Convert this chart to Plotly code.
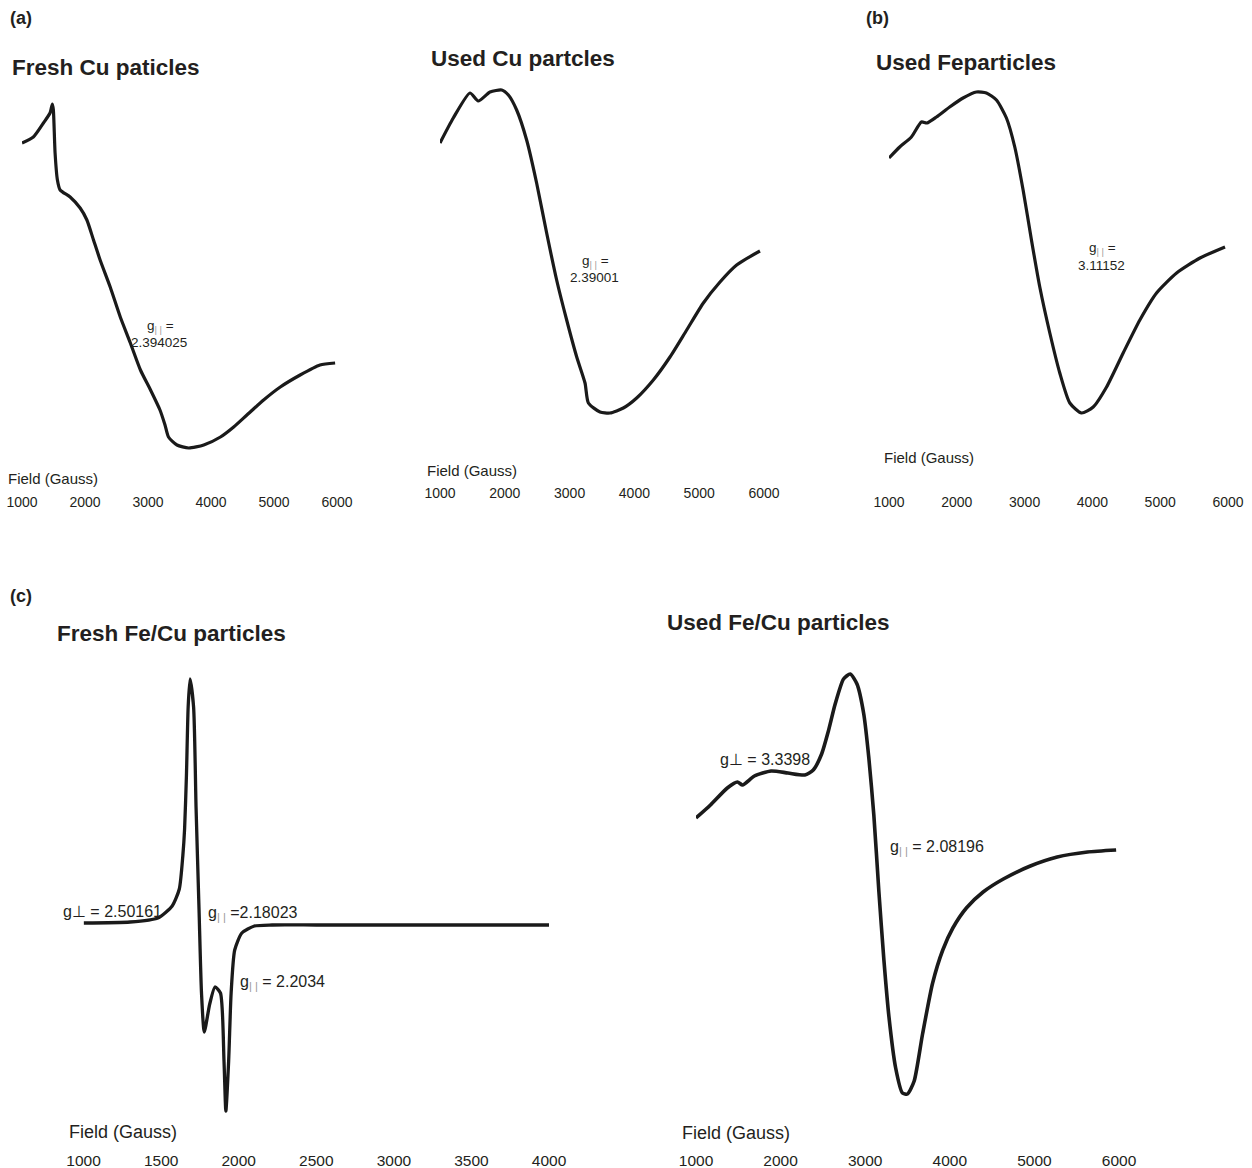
import plotly.graph_objects as go

W, H = 1252, 1168

# ---------------- data (field in Gauss, signal in arbitrary units) ----------------
fresh_cu_field = [1000, 1180, 1340, 1445, 1482, 1498, 1525, 1562, 1605, 1764, 1923, 2030, 2135,
                  2240, 2400, 2560, 2720, 2880, 3040, 3190, 3270, 3325, 3460, 3645, 3885, 4150,
                  4360, 4570, 4835, 5100, 5415, 5730, 5970]
fresh_cu_signal = [357, 363, 377, 387, 396, 390, 347, 320, 310, 303, 292, 280, 260,
                   240, 213, 183, 157, 130, 110, 90, 75, 63, 55, 52, 55, 63,
                   73, 85, 100, 113, 125, 135, 137]

used_cu_field = [1000, 1205, 1463, 1590, 1772, 1952, 2055, 2183, 2337, 2491, 2646, 2800, 2955,
                 3110, 3238, 3290, 3469, 3623, 3829, 4035, 4292, 4549, 4807, 5064, 5321, 5578, 5938]
used_cu_signal = [357, 382, 407, 399, 408, 410, 405, 390, 360, 317, 267, 220, 180,
                  143, 117, 97, 88, 87, 92, 102, 120, 143, 170, 197, 218, 235, 249]

used_fe_field = [1000, 1158, 1330, 1478, 1560, 1700, 1895, 2092, 2290, 2437, 2585, 2732, 2855,
                 2978, 3101, 3224, 3372, 3519, 3667, 3839, 4012, 4209, 4454, 4700, 4946, 5242,
                 5587, 5956]
used_fe_signal = [342, 353, 363, 378, 377, 383, 393, 402, 408, 407, 400, 382, 353,
                  310, 260, 213, 167, 127, 97, 87, 93, 113, 147, 180, 207, 227,
                  242, 253]

fresh_fecu_field = [1000, 1300, 1479, 1571, 1617, 1640, 1651, 1663, 1674, 1686, 1709, 1725, 1744,
                    1760, 1778, 1813, 1847, 1882, 1905, 1917, 1935, 1951, 1974, 2020, 2101, 2215,
                    2500, 3000, 3500, 4117]
fresh_fecu_signal = [2, 3, 7, 19, 36, 70, 96, 150, 218, 246, 218, 117, 16,
                     -68, -107, -79, -62, -68, -136, -186, -136, -68, -25, -8, -1, 0,
                     0, 0, 0, 0]

used_fecu_field = [1000, 1171, 1370, 1490, 1550, 1690, 1888, 2087, 2286, 2386, 2485, 2565, 2645,
                   2744, 2824, 2903, 2983, 3043, 3102, 3162, 3221, 3281, 3360, 3440, 3500, 3579,
                   3678, 3797, 3917, 4036, 4196, 4394, 4633, 4952, 5270, 5628, 5966]
used_fecu_signal = [282, 295, 312, 318, 315, 324, 329, 327, 325, 330, 346, 369, 396,
                    421, 426, 416, 386, 342, 285, 208, 140, 83, 32, 7, 6, 19,
                    66, 117, 150, 172, 192, 208, 221, 234, 243, 248, 250]

top_ticks = [1000, 2000, 3000, 4000, 5000, 6000]
fecu_ticks = [1000, 1500, 2000, 2500, 3000, 3500, 4000]

# ---------------- layout helpers ----------------
FONT = "Arial, Liberation Sans, sans-serif"
TXT = "#231f20"
LINE = "#1a1a1a"


def px(x):
    return x / W


def py(y):
    return 1 - y / H


# panel geometry: x-pixel of range ends, y-pixel top/bottom of plot area, signal reference
panels = [
    dict(x=fresh_cu_field, y=fresh_cu_signal, xr=[1000, 6000], xpx=[22, 337], ypx=[95, 492], ref=500,
         ticks=top_ticks, tfs=14, lw=3.2),
    dict(x=used_cu_field, y=used_cu_signal, xr=[1000, 6000], xpx=[440, 764], ypx=[85, 483], ref=500,
         ticks=top_ticks, tfs=14, lw=3.2),
    dict(x=used_fe_field, y=used_fe_signal, xr=[1000, 6000], xpx=[889, 1228], ypx=[85, 492], ref=500,
         ticks=top_ticks, tfs=14, lw=3.2),
    dict(x=fresh_fecu_field, y=fresh_fecu_signal, xr=[1000, 4000], xpx=[83.6, 549], ypx=[670, 1149], ref=925,
         ticks=fecu_ticks, tfs=15.5, lw=3.3),
    dict(x=used_fecu_field, y=used_fecu_signal, xr=[1000, 6000], xpx=[696, 1119], ypx=[665, 1149], ref=1100,
         ticks=top_ticks, tfs=15.5, lw=3.6),
]

fig = go.Figure()
layout = dict(width=W, height=H, autosize=False, margin=dict(l=0, r=0, t=0, b=0, pad=0),
              paper_bgcolor="white", plot_bgcolor="white", showlegend=False,
              font=dict(family=FONT, color=TXT))

for i, p in enumerate(panels, start=1):
    sfx = "" if i == 1 else str(i)
    fig.add_trace(go.Scatter(x=p["x"], y=p["y"], mode="lines",
                             line=dict(color=LINE, width=p["lw"], shape="spline", smoothing=0.6),
                             xaxis="x" + sfx, yaxis="y" + sfx, hoverinfo="skip"))
    top, bot = p["ypx"]
    layout["xaxis" + sfx] = dict(domain=[px(p["xpx"][0]), px(p["xpx"][1])], range=p["xr"],
                                 anchor="y" + sfx, tickvals=p["ticks"],
                                 ticktext=[str(t) for t in p["ticks"]], automargin=False,
                                 showgrid=False, zeroline=False, showline=False, ticks="",
                                 tickfont=dict(family=FONT, size=p["tfs"], color=TXT))
    layout["yaxis" + sfx] = dict(domain=[py(bot), py(top)], range=[p["ref"] - bot, p["ref"] - top],
                                 anchor="x" + sfx, visible=False, automargin=False)

fig.update_layout(**layout)

annots = []


def txt(x, y, s, size, bold=False, anchor="left"):
    annots.append(dict(x=px(x), y=py(y), xref="paper", yref="paper", text=("<b>%s</b>" % s) if bold else s,
                       showarrow=False, xanchor=anchor, yanchor="middle", borderpad=0,
                       font=dict(family=FONT, size=size, color=TXT)))


# panel labels and titles
txt(9, 18, "(a)", 18, bold=True)
txt(865, 18, "(b)", 18, bold=True)
txt(9, 596, "(c)", 18, bold=True)
txt(11, 67, "Fresh Cu paticles", 22.5, bold=True)
txt(430, 58, "Used Cu partcles", 22.5, bold=True)
txt(875, 62, "Used Feparticles", 22.5, bold=True)
txt(56, 633, "Fresh Fe/Cu particles", 22.5, bold=True)
txt(666, 622, "Used Fe/Cu particles", 22.5, bold=True)

# axis labels
txt(7, 478, "Field (Gauss)", 15)
txt(426, 471, "Field (Gauss)", 15)
txt(883, 458, "Field (Gauss)", 15)
txt(68, 1132, "Field (Gauss)", 18)
txt(681, 1133, "Field (Gauss)", 18)

GPAR = "g<sub><span style='color:#9a9a9a'>| |</span></sub>"

# g-value annotations
txt(160, 326, GPAR + " =", 13.5, anchor="center")
txt(159, 342, "2.394025", 13.5, anchor="center")
txt(595, 261, GPAR + " =", 13.5, anchor="center")
txt(594, 277, "2.39001", 13.5, anchor="center")
txt(1102, 249, GPAR + " =", 13.5, anchor="center")
txt(1101, 265, "3.11152", 13.5, anchor="center")
txt(62, 911, "g\u22a5 = 2.50161", 16)
txt(207, 913, GPAR + " =2.18023", 16)
txt(239, 983, GPAR + " = 2.2034", 16)
txt(719, 759, "g\u22a5 = 3.3398", 16)
txt(889, 847, GPAR + " = 2.08196", 16)

fig.update_layout(annotations=annots)
fig.write_html("out.html", config={"responsive": False, "displayModeBar": False},
               post_script="document.body.style.margin='0';document.body.style.overflow='hidden';")
